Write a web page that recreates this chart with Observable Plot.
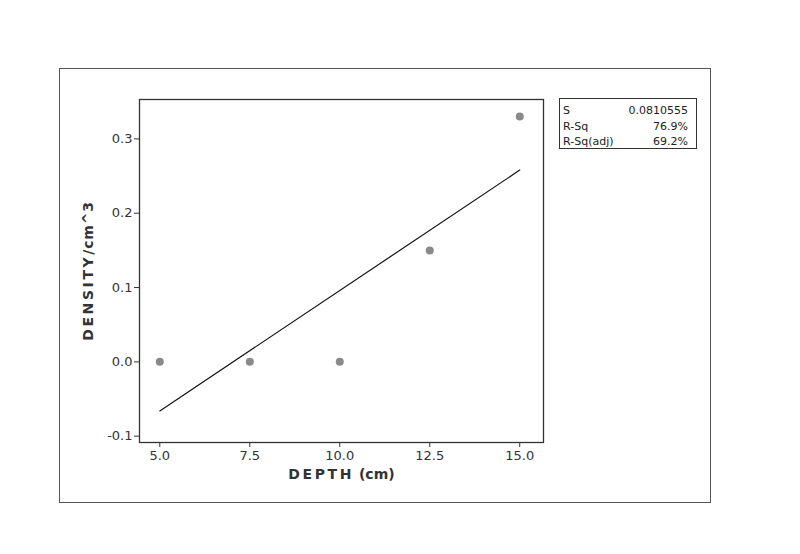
<!DOCTYPE html>
<html><head><meta charset="utf-8">
<script src="https://cdn.jsdelivr.net/npm/d3@7"></script>
<script src="https://cdn.jsdelivr.net/npm/@observablehq/plot@0.6"></script>
<style>
body{margin:0;background:#fff;}
#wrap{position:relative;width:800px;height:554px;background:#fff;}
#outer{position:absolute;left:59px;top:68px;width:652px;height:435px;border:1.5px solid #555;box-sizing:border-box;pointer-events:none;}
#stats{position:absolute;left:559px;top:98px;width:138px;height:51px;border:1.3px solid #333;box-sizing:border-box;font:11px "DejaVu Sans";color:#222;}
#stats .row{position:absolute;left:3px;right:8px;height:15px;line-height:15px;}
#stats .row span.v{position:absolute;right:0;}
#chart{position:absolute;left:0;top:0;}
</style>
</head><body>
<div id="wrap"><div id="chart"></div><div id="outer"></div><div id="stats"></div></div>
<script>
const depth = [5, 7.5, 10, 12.5, 15];
const density = [0, 0, 0, 0.15, 0.33];
const xTicks = [5, 7.5, 10, 12.5, 15];
const yTicks = [-0.1, 0, 0.1, 0.2, 0.3];
const xLabel = ["DEPTH", " (cm)"];
const yLabel = ["DENSITY", "/cm^3"];
const statLabels = ["S", "R-Sq", "R-Sq(adj)"];
const statValues = ["0.0810555", "76.9%", "69.2%"];

const data = depth.map((d, i) => ({depth: d, density: density[i]}));

const chart = Plot.plot({
  width: 800,
  height: 554,
  marginLeft: 139,
  marginRight: 257,
  marginTop: 99,
  marginBottom: 112,
  style: {fontFamily: "DejaVu Sans", fontSize: "13px", color: "#333", background: "transparent"},
  x: {domain: [4.436, 15.66], ticks: xTicks, tickFormat: d => d.toFixed(1), tickSize: 5, tickPadding: 3, label: null},
  y: {domain: [-0.1085, 0.353], ticks: yTicks, tickFormat: d => d.toFixed(1), tickSize: 5, tickPadding: 2, label: null},
  marks: [
    Plot.frame({stroke: "#333", strokeWidth: 1.3}),
    Plot.dot(data, {x: "depth", y: "density", r: 4, fill: "#8a8a8a", stroke: "none"}),
    Plot.linearRegressionY(data, {x: "depth", y: "density", stroke: "#111", strokeWidth: 1.2, ci: 0}),
    Plot.text([xLabel.join("")], {frameAnchor: "bottom", dy: 36, textAnchor: "middle", fontSize: 14, fontWeight: "bold", fill: "#333"}),
    Plot.text([yLabel.join("")], {frameAnchor: "left", dx: -51, rotate: -90, textAnchor: "middle", fontSize: 14, fontWeight: "bold", fill: "#333"})
  ]
});
document.getElementById("chart").appendChild(chart);

function spaced(parts, spacings) {
  const full = parts.join("");
  d3.select(chart).selectAll("text").filter(function() { return this.textContent === full; }).each(function() {
    const t = d3.select(this);
    t.text(null);
    parts.forEach((p, i) => {
      t.append("tspan").style("letter-spacing", spacings[i] + "px").text(p);
    });
  });
}
spaced(xLabel, [2.6, 0]);
spaced(yLabel, [2.6, 0.8]);

const stats = d3.select("#stats");
statLabels.forEach((l, i) => {
  const r = stats.append("div").attr("class", "row").style("top", (4 + i * 15.5) + "px");
  r.append("span").text(l);
  r.append("span").attr("class", "v").text(statValues[i]);
});
</script>
</body></html>
